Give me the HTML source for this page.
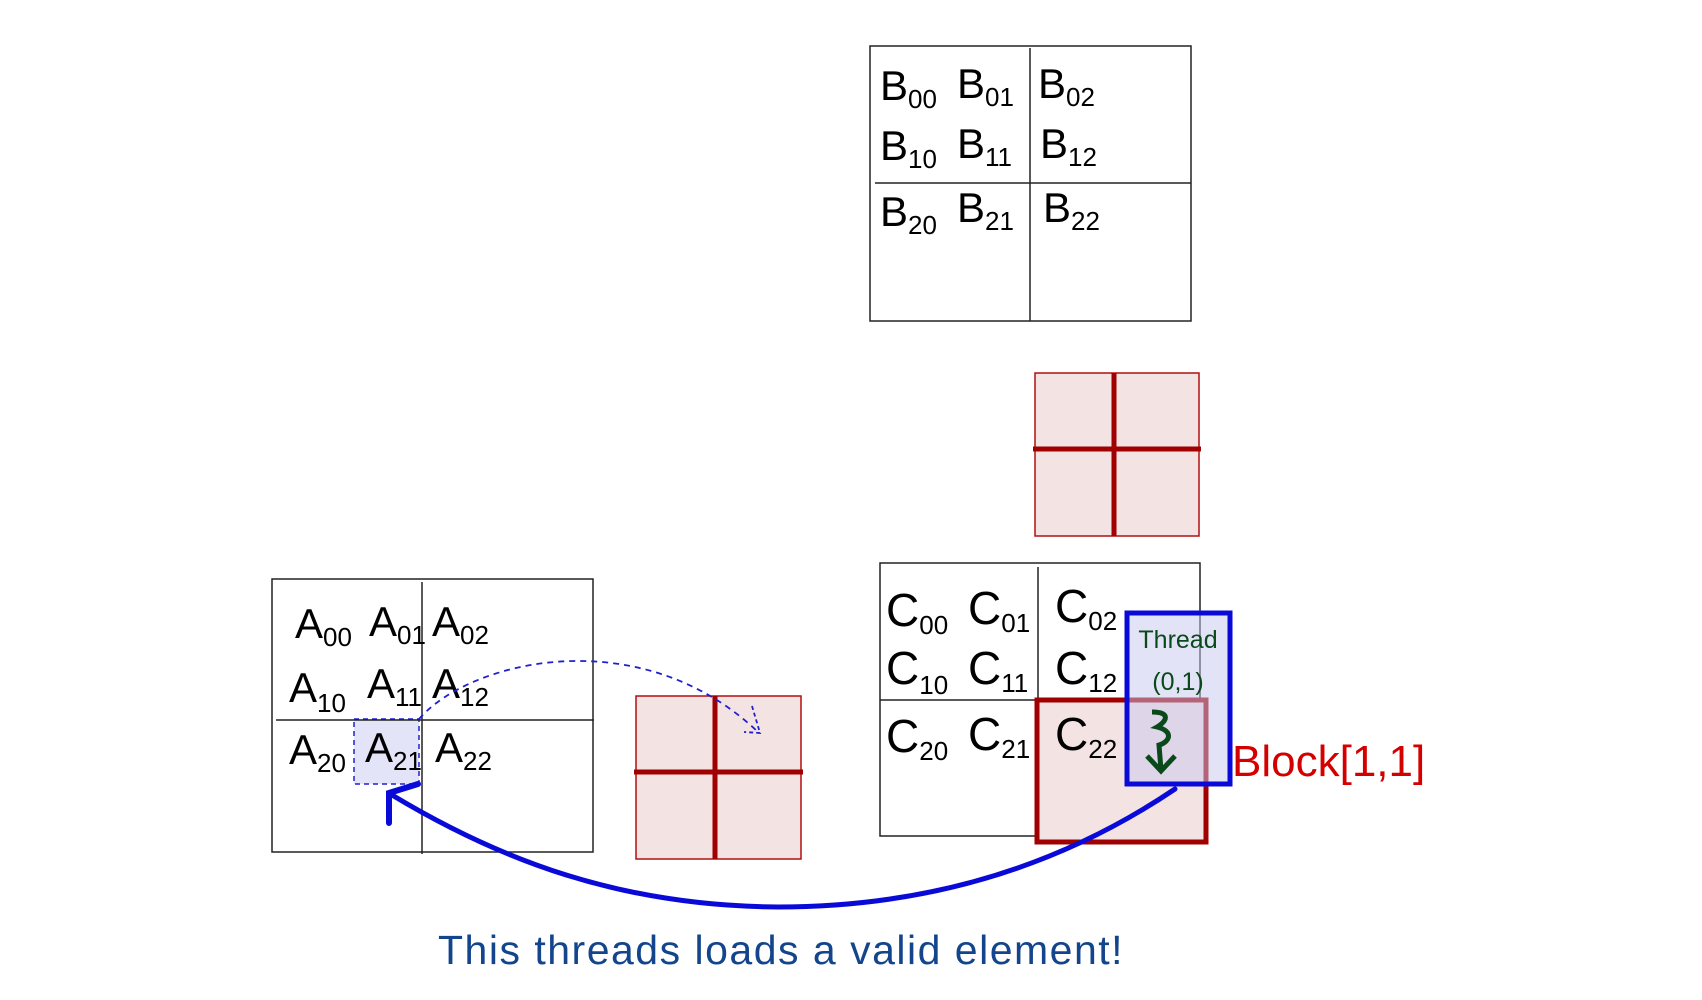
<!DOCTYPE html>
<html><head><meta charset="utf-8"><style>
html,body{margin:0;padding:0;background:#fff;}
svg{display:block;}
.m{font-family:"Liberation Sans",sans-serif;font-size:42px;fill:#000;}
.s{font-size:26px;}
</style></head><body>
<svg width="1702" height="1000" viewBox="0 0 1702 1000" xmlns="http://www.w3.org/2000/svg">
<!-- B matrix -->
<rect x="870" y="46" width="321" height="275" fill="none" stroke="#222" stroke-width="1.5"/>
<line x1="1030" y1="48" x2="1030" y2="321" stroke="#222" stroke-width="1.5"/>
<line x1="875" y1="183" x2="1191" y2="183" stroke="#222" stroke-width="1.5"/>
<g class="m">
<text x="880" y="100">B<tspan class="s" dy="8">00</tspan></text>
<text x="957" y="98">B<tspan class="s" dy="8">01</tspan></text>
<text x="1038" y="98">B<tspan class="s" dy="8">02</tspan></text>
<text x="880" y="160">B<tspan class="s" dy="8">10</tspan></text>
<text x="957" y="158">B<tspan class="s" dy="8">11</tspan></text>
<text x="1040" y="158">B<tspan class="s" dy="8">12</tspan></text>
<text x="880" y="226">B<tspan class="s" dy="8">20</tspan></text>
<text x="957" y="222">B<tspan class="s" dy="8">21</tspan></text>
<text x="1043" y="222">B<tspan class="s" dy="8">22</tspan></text>
</g>
<!-- top red square -->
<rect x="1035" y="373" width="164" height="163" fill="#f4e3e3" stroke="#b01010" stroke-width="1.5"/>
<line x1="1114" y1="373" x2="1114" y2="536" stroke="#a00000" stroke-width="5"/>
<line x1="1033" y1="449" x2="1201" y2="449" stroke="#a00000" stroke-width="5"/>
<!-- A matrix -->
<rect x="272" y="579" width="321" height="273" fill="none" stroke="#222" stroke-width="1.5"/>
<rect x="354" y="719" width="65" height="65" fill="#e3e4f7" stroke="#2020d0" stroke-width="1.5" stroke-dasharray="5,4"/>
<line x1="422" y1="582" x2="422" y2="854" stroke="#222" stroke-width="1.5"/>
<line x1="276" y1="720" x2="594" y2="720" stroke="#222" stroke-width="1.5"/>
<g class="m">
<text x="295" y="638">A<tspan class="s" dy="8">00</tspan></text>
<text x="369" y="636">A<tspan class="s" dy="8">01</tspan></text>
<text x="432" y="636">A<tspan class="s" dy="8">02</tspan></text>
<text x="289" y="702">A<tspan class="s" dy="10">10</tspan></text>
<text x="367" y="698">A<tspan class="s" dy="8">11</tspan></text>
<text x="432" y="698">A<tspan class="s" dy="8">12</tspan></text>
<text x="289" y="764">A<tspan class="s" dy="8">20</tspan></text>
<text x="365" y="762">A<tspan class="s" dy="8">21</tspan></text>
<text x="435" y="762">A<tspan class="s" dy="8">22</tspan></text>
</g>
<!-- red square left -->
<rect x="636" y="696" width="165" height="163" fill="#f4e3e3" stroke="#b01010" stroke-width="1.5"/>
<line x1="715" y1="696" x2="715" y2="859" stroke="#a00000" stroke-width="5"/>
<line x1="634" y1="772" x2="803" y2="772" stroke="#a00000" stroke-width="5"/>
<!-- dashed arc -->
<path d="M419 719 C470 660 640 620 758 732" fill="none" stroke="#2020d0" stroke-width="1.8" stroke-dasharray="6,5"/>
<path d="M752 706 L760 733 L744 732" fill="none" stroke="#2020d0" stroke-width="1.8" stroke-dasharray="4,3"/>
<!-- C matrix -->
<rect x="880" y="563" width="320" height="273" fill="none" stroke="#222" stroke-width="1.5"/>
<line x1="1038" y1="567" x2="1038" y2="700" stroke="#222" stroke-width="1.5"/>
<line x1="880" y1="700" x2="1038" y2="700" stroke="#222" stroke-width="1.5"/>
<rect x="1037" y="700" width="169" height="142" fill="#f4e3e3" stroke="#a00000" stroke-width="5"/>
<rect x="1127" y="613" width="103" height="171" fill="rgba(200,200,240,0.5)" stroke="#0a0ad8" stroke-width="5"/>
<g class="m" style="font-size:46px">
<text x="886" y="626">C<tspan class="s" dy="8">00</tspan></text>
<text x="968" y="624">C<tspan class="s" dy="8">01</tspan></text>
<text x="1055" y="622">C<tspan class="s" dy="8">02</tspan></text>
<text x="886" y="684">C<tspan class="s" dy="10">10</tspan></text>
<text x="968" y="684">C<tspan class="s" dy="8">11</tspan></text>
<text x="1055" y="684">C<tspan class="s" dy="8">12</tspan></text>
<text x="886" y="752">C<tspan class="s" dy="8">20</tspan></text>
<text x="968" y="750">C<tspan class="s" dy="8">21</tspan></text>
<text x="1055" y="750">C<tspan class="s" dy="8">22</tspan></text>
</g>
<text x="1178" y="648" text-anchor="middle" font-family="Liberation Sans,sans-serif" font-size="25" fill="#0a4a1a">Thread</text>
<text x="1178" y="690" text-anchor="middle" font-family="Liberation Sans,sans-serif" font-size="25" fill="#0a4a1a">(0,1)</text>
<path d="M1152 712 C1172 712 1166 722 1157 727 C1174 731 1170 742 1159 745 L1161 770" fill="none" stroke="#0a4a1a" stroke-width="5"/>
<path d="M1147 756 L1161 771 L1175 756" fill="none" stroke="#0a4a1a" stroke-width="5"/>
<text x="1232" y="776" font-family="Liberation Sans,sans-serif" font-size="44" fill="#d40000">Block[1,1]</text>
<!-- big blue arrow -->
<path d="M1175 789 C1040 880 900 907 778 907 C620 906 500 860 392 795" fill="none" stroke="#0a0ad8" stroke-width="5" stroke-linecap="round"/>
<path d="M389 823 L389 793 L418 784" fill="none" stroke="#0a0ad8" stroke-width="6" stroke-linecap="round"/>
<text x="438" y="964" font-family="Liberation Sans,sans-serif" font-size="41" fill="#13458c" letter-spacing="1.5">This threads loads a valid element!</text>
</svg>
</body></html>
